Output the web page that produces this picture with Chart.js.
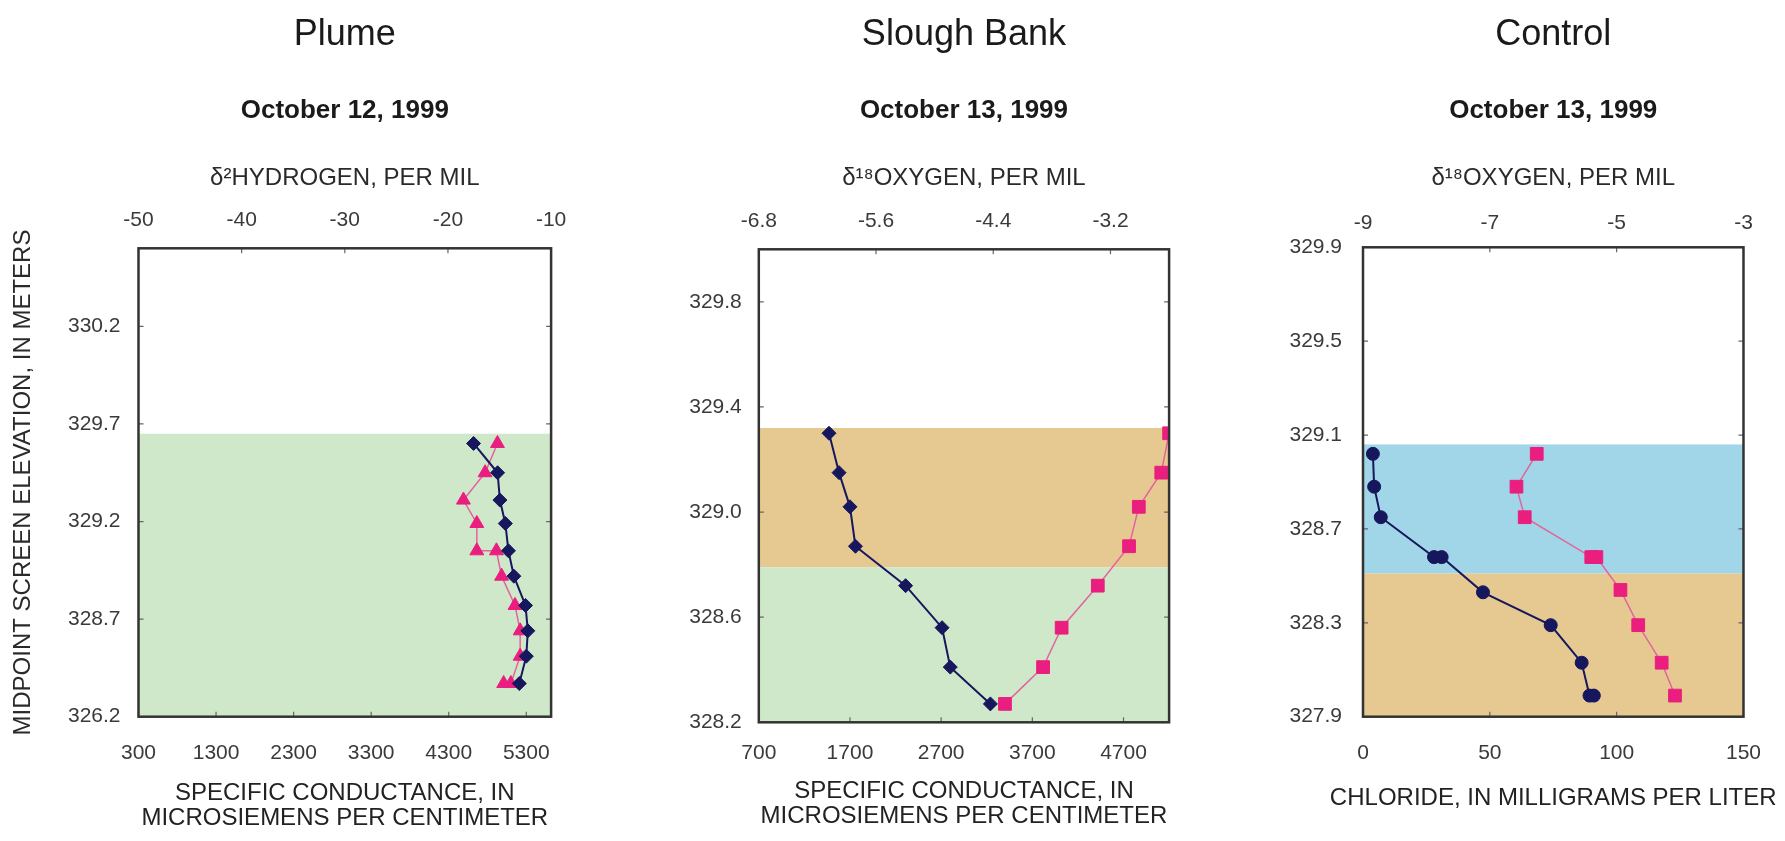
<!DOCTYPE html>
<html>
<head>
<meta charset="utf-8">
<script src="https://cdn.jsdelivr.net/npm/chart.js@4.4.1/dist/chart.umd.min.js"></script>
<style>
  body { margin: 0; background: #fff; }
  #wrap { position: relative; width: 1785px; height: 841px; }
  canvas { position: absolute; top: 0; }
</style>
</head>
<body>
<div id="wrap">
  <canvas id="plume" width="600" height="841" style="left:0"></canvas>
  <canvas id="slough" width="600" height="841" style="left:600px"></canvas>
  <canvas id="control" width="585" height="841" style="left:1200px"></canvas>
</div>
<script>
// Plume, October 12, 1999
const plumeDepth = [329.60, 329.45, 329.31, 329.19, 329.05, 328.92, 328.77, 328.64, 328.51, 328.37];
const plumeConductance = [4620, 4930, 4960, 5030, 5070, 5140, 5290, 5320, 5300, 5210];
const plumeHydrogenDepth = [329.60, 329.45, 329.31, 329.19, 329.05, 329.05, 328.92, 328.77, 328.64, 328.51, 328.37, 328.37];
const plumeHydrogen = [-15.2, -16.4, -18.5, -17.2, -17.2, -15.3, -14.8, -13.5, -13.0, -13.0, -13.9, -14.6];
const plumeElevTicks = [328.2, 328.7, 329.2, 329.7, 330.2];
const plumeElevLabels = ['326.2', '328.7', '329.2', '329.7', '330.2'];
const plumeCondTicks = [300, 1300, 2300, 3300, 4300, 5300];
const plumeHydrogenTicks = [-50, -40, -30, -20, -10];
const plumeZones = [[328.2, 329.65]];

// Slough Bank, October 13, 1999
const sloughDepth = [329.30, 329.15, 329.02, 328.87, 328.72, 328.56, 328.41, 328.27];
const sloughConductance = [1470, 1580, 1700, 1760, 2310, 2710, 2800, 3240];
const sloughOxygen = [-2.60, -2.68, -2.91, -3.01, -3.33, -3.70, -3.89, -4.28];
const sloughElevTicks = [328.2, 328.6, 329.0, 329.4, 329.8];
const sloughCondTicks = [700, 1700, 2700, 3700, 4700];
const sloughOxygenTicks = [-6.8, -5.6, -4.4, -3.2];
const sloughZones = [[328.79, 329.32], [328.2, 328.79]];

// Control, October 13, 1999
const controlDepth = [329.02, 328.88, 328.75, 328.58, 328.58, 328.43, 328.29, 328.13, 327.99, 327.99];
const controlChloride = [3.9, 4.4, 7.0, 28.0, 31.0, 47.3, 74.0, 86.2, 89.3, 91.0];
const controlOxygenDepth = [329.02, 328.88, 328.75, 328.58, 328.58, 328.44, 328.29, 328.13, 327.99];
const controlOxygen = [-6.26, -6.58, -6.45, -5.40, -5.32, -4.94, -4.66, -4.29, -4.08];
const controlElevTicks = [327.9, 328.3, 328.7, 329.1, 329.5, 329.9];
const controlChlorideTicks = [0, 50, 100, 150];
const controlOxygenTicks = [-9, -7, -5, -3];
const controlZones = [[328.51, 329.06], [327.9, 328.51]];

const FONT = '"Liberation Sans", Arial, Helvetica, sans-serif';
const NAVY = '#17175e';
const PINK = '#ea1e7e';
const PINK_LINE = '#e2649c';
const GREEN = '#cfe8ca';
const TAN = '#e5c990';
const BLUE = '#a0d6e8';

Chart.defaults.font.family = FONT;

// shaded zones behind the profiles
const zonePlugin = {
  id: 'zones',
  beforeDatasetsDraw(chart, args, opts) {
    const { ctx, chartArea: a, scales: { y } } = chart;
    ctx.save();
    opts.zones.forEach((z, i) => {
      const top = y.getPixelForValue(z[1]);
      const bottom = y.getPixelForValue(z[0]);
      ctx.fillStyle = opts.colors[i];
      ctx.fillRect(a.left, top, a.right - a.left, bottom - top);
    });
    ctx.restore();
  }
};

// box outline plus small inward tick marks
const framePlugin = {
  id: 'frame',
  afterDatasetsDraw(chart) {
    const { ctx, chartArea: a, scales } = chart;
    const len = 5;
    ctx.save();
    ctx.strokeStyle = '#666';
    ctx.lineWidth = 1.2;
    ctx.beginPath();
    scales.y.ticks.forEach(t => {
      const p = scales.y.getPixelForValue(t.value);
      ctx.moveTo(a.left, p); ctx.lineTo(a.left + len, p);
      ctx.moveTo(a.right, p); ctx.lineTo(a.right - len, p);
    });
    scales.x.ticks.forEach(t => {
      const p = scales.x.getPixelForValue(t.value);
      ctx.moveTo(p, a.bottom); ctx.lineTo(p, a.bottom - len);
    });
    scales.x2.ticks.forEach(t => {
      const p = scales.x2.getPixelForValue(t.value);
      ctx.moveTo(p, a.top); ctx.lineTo(p, a.top + len);
    });
    ctx.stroke();
    ctx.strokeStyle = '#333';
    ctx.lineWidth = 2.5;
    ctx.strokeRect(a.left, a.top, a.right - a.left, a.bottom - a.top);
    ctx.restore();
  }
};

// bottom axis caption, centred under the plot box
const captionPlugin = {
  id: 'caption',
  afterDraw(chart, args, opts) {
    const { ctx, chartArea: a } = chart;
    ctx.save();
    ctx.font = '24px ' + FONT;
    ctx.fillStyle = '#222';
    ctx.textAlign = 'center';
    ctx.textBaseline = 'middle';
    opts.lines.forEach((line, i) => {
      ctx.fillText(line, (a.left + a.right) / 2, a.bottom + opts.offset + i * 25);
    });
    ctx.restore();
  }
};

function points(xs, ys) {
  return xs.map((v, i) => ({ x: v, y: ys[i] }));
}

function fixedAxis(values, labels, pad, extra) {
  return Object.assign({
    type: 'linear',
    grid: { display: false, drawTicks: false },
    border: { display: false },
    afterBuildTicks: s => { s.ticks = values.map(v => ({ value: v })); },
    ticks: {
      autoSkip: false,
      maxRotation: 0,
      padding: pad,
      color: '#3a3a3a',
      font: { size: 21 },
      callback: (v, i) => labels[i]
    }
  }, extra);
}

function profile(data, color, lineColor, lineWidth, style, radius, axis) {
  return {
    data: data,
    xAxisID: axis,
    showLine: true,
    borderColor: lineColor,
    borderWidth: lineWidth,
    pointStyle: style,
    pointRadius: radius,
    pointBackgroundColor: color,
    pointBorderColor: color,
    pointBorderWidth: 1
  };
}

function panel(id, p) {
  new Chart(document.getElementById(id), {
    type: 'scatter',
    data: { datasets: p.datasets },
    options: {
      responsive: false,
      animation: false,
      events: [],
      layout: { padding: { left: 0, right: p.padRight, top: 0, bottom: 0 } },
      plugins: {
        legend: { display: false },
        tooltip: { enabled: false },
        title: {
          display: true, text: p.title, fullSize: false, color: '#1a1a1a',
          font: { size: 36, weight: 'normal' }, padding: { top: 13, bottom: 0 }
        },
        subtitle: {
          display: true, text: p.date, fullSize: false, color: '#1a1a1a',
          font: { size: 26, weight: 'bold' }, padding: { top: 39, bottom: 0 }
        },
        zones: { zones: p.zones, colors: p.zoneColors },
        caption: { lines: p.bottomTitle, offset: p.captionOffset }
      },
      scales: {
        x: fixedAxis(p.xTicks, p.xTicks.map(String), p.xPad, {
          position: 'bottom', min: p.xRange[0], max: p.xRange[1],
          afterFit: s => { s.height = p.bottomH; }
        }),
        x2: fixedAxis(p.x2Ticks, p.x2Ticks.map(String), p.x2Pad, {
          position: 'top', min: p.x2Range[0], max: p.x2Range[1],
          title: {
            display: true, text: p.topTitle, color: '#2a2a2a',
            font: { size: 24 }, padding: { top: 37.5, bottom: 0 }
          },
          afterFit: s => { s.height = p.topH; }
        }),
        y: fixedAxis(p.yTicks, p.yLabels, p.yPad, {
          position: 'left', min: p.yRange[0], max: p.yRange[1],
          title: {
            display: !!p.yTitle, text: p.yTitle || '', color: '#2a2a2a',
            font: { size: 24 }, padding: { top: 8.6, bottom: 0 }
          },
          afterFit: s => { s.width = p.leftW; }
        })
      }
    },
    plugins: [zonePlugin, framePlugin, captionPlugin]
  });
}

panel('plume', {
  title: 'Plume',
  date: 'October 12, 1999',
  topTitle: '\u03B4\u00B2HYDROGEN, PER MIL',
  bottomTitle: ['SPECIFIC CONDUCTANCE, IN', 'MICROSIEMENS PER CENTIMETER'],
  yTitle: 'MIDPOINT SCREEN ELEVATION, IN METERS',
  xRange: [300, 5620], x2Range: [-50, -10], yRange: [328.2, 330.6],
  xTicks: plumeCondTicks, x2Ticks: plumeHydrogenTicks,
  yTicks: plumeElevTicks, yLabels: plumeElevLabels,
  zones: plumeZones, zoneColors: [GREEN],
  leftW: 138.5, padRight: 48.9, topH: 121.9, bottomH: 124.3,
  xPad: 24, x2Pad: 15.7, yPad: 18, captionOffset: 76.6,
  datasets: [
    profile(points(plumeConductance, plumeDepth), NAVY, NAVY, 2, 'rectRot', 7, 'x'),
    profile(points(plumeHydrogen, plumeHydrogenDepth), PINK, PINK_LINE, 1.5, 'triangle', 8, 'x2')
  ]
});

panel('slough', {
  title: 'Slough Bank',
  date: 'October 13, 1999',
  topTitle: '\u03B4\u00B9\u2078OXYGEN, PER MIL',
  bottomTitle: ['SPECIFIC CONDUCTANCE, IN', 'MICROSIEMENS PER CENTIMETER'],
  xRange: [700, 5200], x2Range: [-6.8, -2.6], yRange: [328.2, 330.0],
  xTicks: sloughCondTicks, x2Ticks: sloughOxygenTicks,
  yTicks: sloughElevTicks, yLabels: sloughElevTicks.map(v => v.toFixed(1)),
  zones: sloughZones, zoneColors: [TAN, GREEN],
  leftW: 158.8, padRight: 30.9, topH: 122.9, bottomH: 118.7,
  xPad: 18.4, x2Pad: 15, yPad: 17, captionOffset: 69.4,
  datasets: [
    profile(points(sloughConductance, sloughDepth), NAVY, NAVY, 2, 'rectRot', 7, 'x'),
    profile(points(sloughOxygen, sloughDepth), PINK, PINK_LINE, 1.5, 'rect', 9, 'x2')
  ]
});

panel('control', {
  title: 'Control',
  date: 'October 13, 1999',
  topTitle: '\u03B4\u00B9\u2078OXYGEN, PER MIL',
  bottomTitle: ['CHLORIDE, IN MILLIGRAMS PER LITER'],
  xRange: [0, 150], x2Range: [-9, -3], yRange: [327.9, 329.9],
  xTicks: controlChlorideTicks, x2Ticks: controlOxygenTicks,
  yTicks: controlElevTicks, yLabels: controlElevTicks.map(v => v.toFixed(1)),
  zones: controlZones, zoneColors: [BLUE, TAN],
  leftW: 163, padRight: 27.9, topH: 120.9, bottomH: 124.3,
  xPad: 24, x2Pad: 11.4, yPad: 21, captionOffset: 81.6,
  datasets: [
    profile(points(controlChloride, controlDepth), NAVY, NAVY, 2, 'circle', 6.5, 'x'),
    profile(points(controlOxygen, controlOxygenDepth), PINK, PINK_LINE, 1.5, 'rect', 9, 'x2')
  ]
});
</script>
</body>
</html>
